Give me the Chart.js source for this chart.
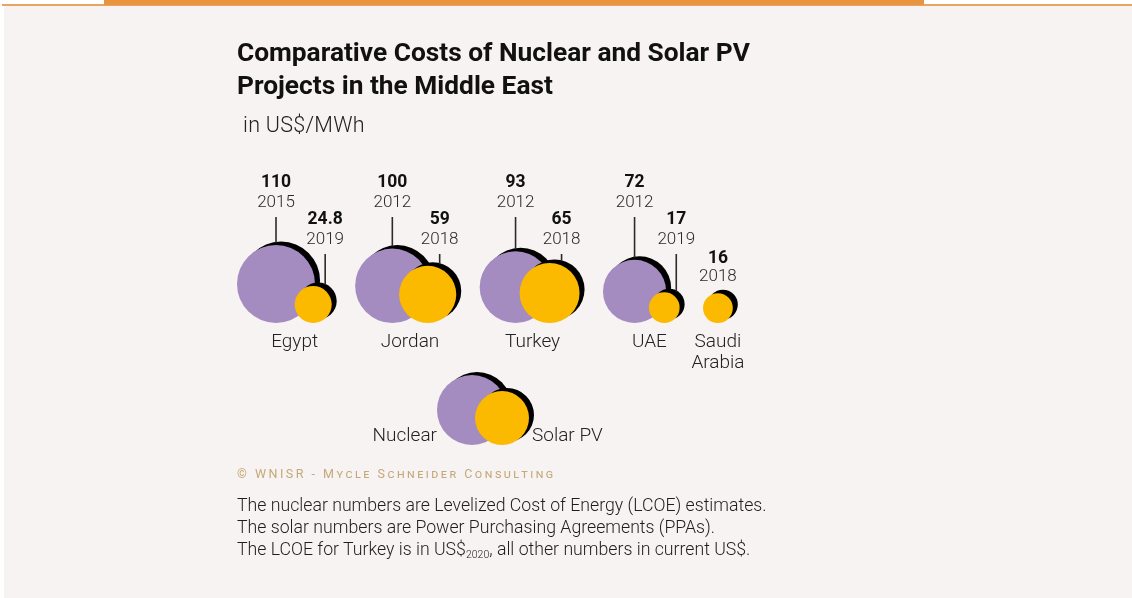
<!DOCTYPE html>
<html><head><meta charset="utf-8">
<script src="https://cdn.jsdelivr.net/npm/chart.js@4.4.1/dist/chart.umd.min.js"></script>
<style>
html,body{margin:0;padding:0;width:1132px;height:598px;overflow:hidden;background:#fff;font-family:Roboto,"Noto Sans",sans-serif;}
#panel{position:absolute;left:4px;top:5px;width:1128px;height:593px;background:#f7f3f2;}
#rule{position:absolute;left:2px;top:4px;width:1130px;height:2px;background:#eba45f;}
#bar{position:absolute;left:104px;top:0;width:820px;height:5px;background:#e9953f;}
#wrap{position:absolute;left:0;top:0;width:1132px;height:598px;}
.t{position:absolute;white-space:nowrap;}
#title{left:237px;top:36px;font-weight:700;font-size:26.3px;line-height:33px;color:#111;}
#sub{left:243px;top:113px;font-weight:300;font-size:21.5px;line-height:24px;letter-spacing:0.3px;color:#222;}
#credit{left:237px;top:466px;font-size:12.5px;font-variant:small-caps;letter-spacing:2.5px;color:#c4a977;}
#notes{left:237px;top:494px;font-weight:300;font-size:17.7px;line-height:22px;color:#1e1e1e;}
#notes sub{font-size:10.5px;vertical-align:-3px;line-height:0;}
.lg{position:absolute;border-radius:50%;box-shadow:5px -3px 0 #000;}
#lgN{left:437px;top:375px;width:70px;height:70px;background:#a48bc0;}
#lgS{left:475px;top:391px;width:54px;height:54px;background:#fbb900;}
#lgNt{right:695px;top:423px;font-weight:300;font-size:19px;line-height:24px;color:#222;}
#lgSt{left:532px;top:423px;font-weight:300;font-size:19px;line-height:24px;color:#222;}
</style></head>
<body>
<div id="panel"></div>
<div id="rule"></div>
<div id="bar"></div>
<div id="wrap"><canvas id="c"></canvas></div>
<div class="t" id="title">Comparative Costs of Nuclear and Solar PV<br>Projects in the Middle East</div>
<div class="t" id="sub">in US$/MWh</div>
<div class="lg" id="lgN"></div>
<div class="lg" id="lgS"></div>
<div class="t" id="lgNt">Nuclear</div>
<div class="t" id="lgSt">Solar PV</div>
<div class="t" id="credit">© WNISR - Mycle Schneider Consulting</div>
<div class="t" id="notes">The nuclear numbers are Levelized Cost of Energy (LCOE) estimates.<br>The solar numbers are Power Purchasing Agreements (PPAs).<br>The LCOE for Turkey is in US$<sub>2020</sub>, all other numbers in current US$.</div>
<script>
// ---- data (US$/MWh) ----
const categories  = ['Egypt', 'Jordan', 'Turkey', 'UAE', ['Saudi', 'Arabia']];
const nuclearCost = [110, 100, 93, 72, null];
const nuclearYear = ['2015', '2012', '2012', '2012', null];
const solarCost   = [24.8, 59, 65, 17, 16];
const solarYear   = ['2019', '2018', '2018', '2019', '2018'];
const seriesNames = ['Nuclear', 'Solar PV'];

// ---- layout / style ----
const PX_PER_UNIT = 3.72;   // px per sqrt(US$/MWh): bubble area proportional to cost
const LEFT_PX = 237;        // left edge of the first bubble group
const GROUP_GAP = 6.3;      // gap between groups (sqrt units)
const NUDGE = 0.5;          // solar centre = nuclear centre + rN - NUDGE
const PAD = 45;             // room for bubble overflow at the chart-area edges
const AXIS_H = 60, BOTTOM_PAD = 215, CANVAS_W = 1132, CANVAS_H = 598;
const SHADOW_X = 5, SHADOW_Y = -3.5;
const PURPLE = '#a48bc0', YELLOW = '#fbb900';

// pack the groups left to right from the bubble sizes
const groups = [];
let cursor = 0;
categories.forEach((c, i) => {
  const rn = nuclearCost[i] != null ? Math.sqrt(nuclearCost[i]) : null;
  const rs = Math.sqrt(solarCost[i]);
  let nx = null, sx;
  if (rn != null) { nx = cursor + rn; sx = nx + rn - NUDGE; }
  else { sx = cursor + rs; }
  groups.push({ nx, sx, mid: nx != null ? (nx + sx) / 2 : sx });
  cursor = sx + rs + GROUP_GAP;
});

// bubble centre sits one radius above the baseline, so every bubble rests on y = 0
const bubble = (x, cost, year, paired) => ({
  x, y: Math.sqrt(cost), r: PX_PER_UNIT * Math.sqrt(cost), cost, year, paired
});
const nuclearPoints = [], solarPoints = [];
categories.forEach((c, i) => {
  if (nuclearCost[i] != null) nuclearPoints.push(bubble(groups[i].nx, nuclearCost[i], nuclearYear[i], true));
  solarPoints.push(bubble(groups[i].sx, solarCost[i], solarYear[i], nuclearCost[i] != null));
});

const shadowPlugin = {
  id: 'hardShadow',
  beforeDatasetDraw(chart) {
    const ctx = chart.ctx;
    ctx.save();
    ctx.shadowColor = '#000';
    ctx.shadowBlur = 0;
    ctx.shadowOffsetX = SHADOW_X;
    ctx.shadowOffsetY = SHADOW_Y;
  },
  afterDatasetDraw(chart) { chart.ctx.restore(); }
};

function topAt(cx, cy, r, x) {
  const dx = x - cx;
  if (!(Math.abs(dx) < r)) return Infinity;
  return cy - Math.sqrt(r * r - dx * dx);
}

const labelPlugin = {
  id: 'valueLabels',
  afterDatasetsDraw(chart) {
    const ctx = chart.ctx;
    const bottom = chart.chartArea.bottom;
    ctx.save();
    chart.data.datasets.forEach((ds, di) => {
      const meta = chart.getDatasetMeta(di);
      const isSolar = ds.label === seriesNames[1];
      meta.data.forEach((el, j) => {
        const d = ds.data[j];
        const r = el.options.radius;
        let lx = el.x, vy, yy, drawLine = true;
        if (!d.paired) {
          vy = el.y - r - 35; yy = el.y - r - 16; drawLine = false;
        } else if (isSolar) {
          lx = el.x + 12; vy = bottom - 103; yy = bottom - 83;
        } else {
          vy = bottom - 140; yy = bottom - 120;
        }
        ctx.textAlign = 'center';
        ctx.textBaseline = 'middle';
        ctx.fillStyle = '#111';
        ctx.font = '700 17.5px Roboto, "Noto Sans", sans-serif';
        ctx.fillText(String(d.cost), lx, vy);
        ctx.fillStyle = '#2a2a2a';
        ctx.font = '300 17px Roboto, "Noto Sans", sans-serif';
        ctx.fillText(d.year, lx, yy);
        if (drawLine) {
          const y0 = yy + 14;
          const y1 = Math.min(topAt(el.x, el.y, r, lx), topAt(el.x + SHADOW_X, el.y + SHADOW_Y, r, lx));
          if (isFinite(y1)) {
            ctx.strokeStyle = '#2a2a2a';
            ctx.lineWidth = 1.6;
            ctx.beginPath();
            ctx.moveTo(lx, y0);
            ctx.lineTo(lx, y1 + 1);
            ctx.stroke();
          }
        }
      });
    });
    ctx.restore();
  }
};

const chart = new Chart(document.getElementById('c'), {
  type: 'bubble',
  data: {
    datasets: [
      { label: seriesNames[1], data: solarPoints, backgroundColor: YELLOW, borderWidth: 0, hoverRadius: 0, hoverBorderWidth: 0, order: 1, clip: false },
      { label: seriesNames[0], data: nuclearPoints, backgroundColor: PURPLE, borderWidth: 0, hoverRadius: 0, hoverBorderWidth: 0, order: 2, clip: false }
    ]
  },
  options: {
    responsive: true,
    maintainAspectRatio: false,
    animation: false,
    events: [],
    layout: { padding: { top: PAD, left: PAD, right: PAD, bottom: BOTTOM_PAD } },
    plugins: { legend: { display: false }, tooltip: { enabled: false }, title: { display: false } },
    scales: {
      x: {
        type: 'linear',
        min: -(LEFT_PX - PAD) / PX_PER_UNIT,
        max: (CANVAS_W - PAD - LEFT_PX) / PX_PER_UNIT,
        grid: { display: false, drawTicks: false },
        border: { display: false },
        afterBuildTicks: axis => { axis.ticks = groups.map(g => ({ value: g.mid })); },
        afterFit: s => { s.height = AXIS_H; },
        ticks: {
          autoSkip: false, maxRotation: 0, minRotation: 0, padding: 9,
          color: '#222',
          font: { family: 'Roboto, "Noto Sans", sans-serif', size: 19, weight: '300', lineHeight: 1.1 },
          callback: (v, i) => categories[i]
        }
      },
      y: {
        type: 'linear', display: false, min: 0,
        max: (CANVAS_H - BOTTOM_PAD - AXIS_H - PAD) / PX_PER_UNIT
      }
    }
  },
  plugins: [shadowPlugin, labelPlugin]
});
</script>
</body></html>
